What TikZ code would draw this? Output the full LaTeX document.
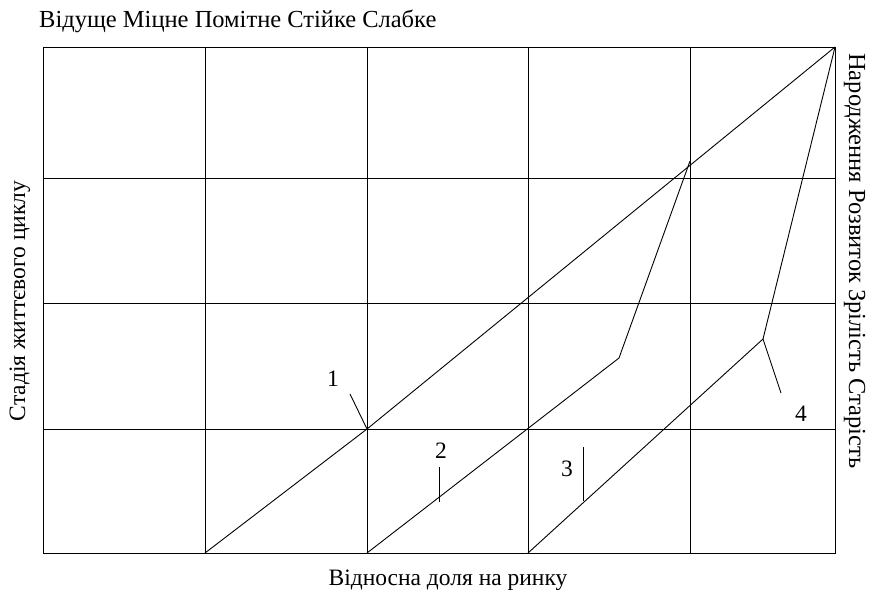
\documentclass[tikz,border=0pt]{standalone}
\usepackage{fontspec}
\setmainfont{Liberation Serif}
\usetikzlibrary{positioning}

\begin{document}
\begin{tikzpicture}[x=1pt,y=-1pt]
\tikzset{
  gridline/.style={line width=0.9pt},
  stageline/.style={line width=0.9pt,line join=miter},
  leader/.style={line width=0.9pt},
  numlabel/.style={inner sep=0pt,font=\fontsize{23.5}{26}\selectfont},
  axislabel/.style={inner sep=0pt,font=\fontsize{23.5}{26}\selectfont},
  sidelabel/.style={inner sep=0pt,font=\fontsize{24.5}{27}\selectfont}
}
\useasboundingbox (0,0) rectangle (869,592);
% grid
\draw[gridline] (43,47) rectangle (835,553);
\draw[gridline] (205,47) -- (205,553);
\draw[gridline] (367,47) -- (367,553);
\draw[gridline] (528,47) -- (528,553);
\draw[gridline] (690,47) -- (690,553);
\draw[gridline] (43,178) -- (835,178);
\draw[gridline] (43,303) -- (835,303);
\draw[gridline] (43,429) -- (835,429);
% points of the lines
\coordinate (c_top) at (835,47);
\coordinate (c_a0) at (205,553);
\coordinate (c_a1) at (367,429);
\coordinate (c_b0) at (367,553);
\coordinate (c_b1) at (619,358);
\coordinate (c_b2) at (690,161);
\coordinate (c_c0) at (528,553);
\coordinate (c_c1) at (763,339);
\draw[stageline] (c_a0) -- (c_a1) -- (c_top);
\draw[stageline] (c_b0) -- (c_b1) -- (c_b2);
\draw[stageline] (c_c0) -- (c_c1) -- (c_top);
% labels
\node[numlabel] (n_one) at (333,379) {1};
\node[numlabel] (n_two) at (441,451) {2};
\node[numlabel] (n_three) at (567,469) {3};
\node[numlabel] (n_four) at (801,414) {4};
\coordinate (t_one) at (350,394);
\coordinate (t_two) at (439,467);
\coordinate (t_twoend) at (439,502);
\coordinate (t_three) at (583,447);
\coordinate (t_threeend) at (583,501);
\coordinate (t_four) at (781,393);
\draw[leader] (t_one) -- (c_a1);
\draw[leader] (t_two) -- (t_twoend);
\draw[leader] (t_three) -- (t_threeend);
\draw[leader] (c_c1) -- (t_four);
% axis texts
\node[sidelabel,anchor=base west] (n_strength) at (39,27) {Відуще Міцне Помітне Стійке Слабке};
\node[axislabel,anchor=base] (n_share) at (448,585) {Відносна доля на ринку};
\node[axislabel,rotate=90,anchor=base] (n_stage) at (25,301) {Стадія життєвого циклу};
\node[sidelabel,rotate=-90,anchor=base west] (n_phases) at (849,53) {Народження Розвиток Зрілість Старість};
\end{tikzpicture}
\end{document}
